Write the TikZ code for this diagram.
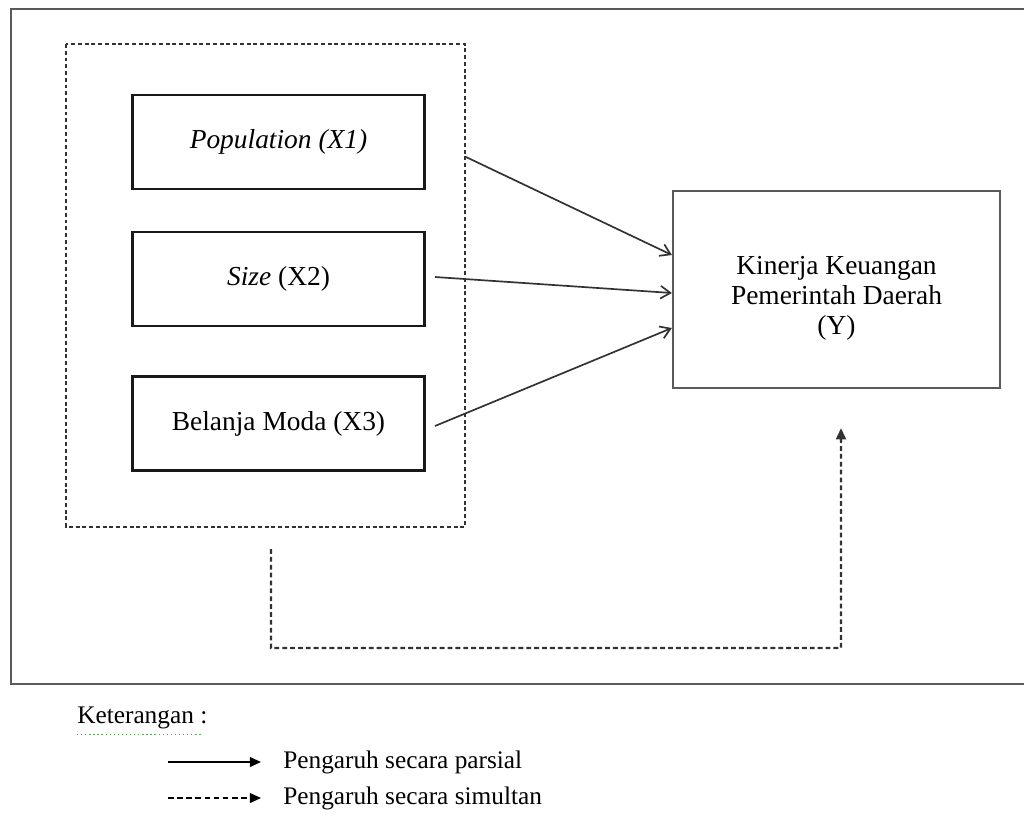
\documentclass[tikz,border=0pt]{standalone}
\usepackage{fontspec}
\setmainfont{Liberation Serif}
\usetikzlibrary{arrows.meta,calc}
\definecolor{boxline}{RGB}{25,25,25}
\definecolor{frameline}{RGB}{90,90,90}
\definecolor{arrowline}{RGB}{50,50,50}
\definecolor{spellgreen}{RGB}{90,170,90}

\tikzset{
  varbox/.style={draw=boxline,line width=2.1pt,minimum width=7.275cm,minimum height=2.35cm,inner sep=0pt,
    font=\fontsize{19.5}{22}\selectfont},
  resultbox/.style={draw=frameline,line width=1.5pt,minimum width=8.175cm,minimum height=4.925cm,inner sep=0pt,
    font=\fontsize{19.5}{21.5}\selectfont},
  partial/.style={draw=arrowline,line width=1.2pt,-{Straight Barb[length=7pt,width=9pt]}},
  simultan/.style={draw=arrowline,line width=1.5pt,dash pattern=on 3.4pt off 2.2pt,-{Triangle[length=8pt,width=7pt]}},
  legendtext/.style={anchor=west,inner sep=0pt,font=\fontsize{18}{20}\selectfont}
}

\begin{document}
\begin{tikzpicture}[x=0.025cm,y=-0.025cm]
    \useasboundingbox (0,0) rectangle (1024,817);
    % frame and group
    \draw[frameline,line width=1.6pt] (1030,9) -- (11,9) -- (11,684) -- (1030,684);
    \draw[arrowline,line width=1.4pt,dash pattern=on 2.8pt off 2pt] (66,44) rectangle (465,527);

    % variables
    \node [varbox] (x1) at (278.5,142) {\textit{Population (X1)}};
    \node [varbox] (x2) at (278.5,279) {\textit{Size} (X2)};
    \node [varbox] (x3) at (278.5,423.5) {Belanja Moda (X3)};
    \node [resultbox] (y) at (836.5,289.5)
      {\raisebox{-0.22cm}[\height][\depth]{\begin{tabular}{@{}c@{}}Kinerja Keuangan\\Pemerintah Daerah\\(Y)\end{tabular}}};

    \coordinate (s1) at (466,157);
    \coordinate (s2) at (435,277);
    \coordinate (s3) at (435,426);
    \draw [partial] (s1) -- ($(y.west)+(0,-34.5)$);
    \draw [partial] (s2) -- ($(y.west)+(0,3.5)$);
    \draw [partial] (s3) -- ($(y.west)+(0,38.5)$);

    \coordinate (g) at (271,549);
    \draw [simultan] (g) -- (271,648) -- (841,648) -- ($(y.south)+(4.5,39)$);

    % legend
    \node [legendtext] (ket) at (77,718) {Keterangan :};
    \draw [spellgreen,line width=0.9pt,dotted] ($(ket.south west)+(0,5)$) -- ($(ket.south east)+(-6,5)$);
    \coordinate (la) at (168,762);
    \coordinate (lb) at (168,798);
    \node [legendtext] (lpar) at (283,762) {Pengaruh secara parsial};
    \node [legendtext] (lsim) at (283,798) {Pengaruh secara simultan};
    \draw [draw=black,line width=1.3pt,-{Triangle[length=8pt,width=7pt]}] (la) -- ($(lpar.west)+(-22,0)$);
    \draw [draw=black,line width=1.3pt,dash pattern=on 4pt off 2.5pt,-{Triangle[length=8pt,width=7pt]}] (lb) -- ($(lsim.west)+(-22,0)$);
\end{tikzpicture}
\end{document}
